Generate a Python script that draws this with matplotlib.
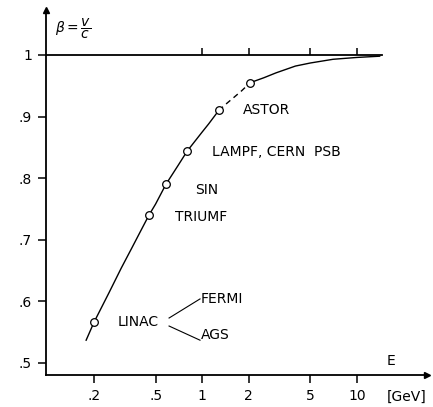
import numpy as np
import matplotlib
matplotlib.use("Agg")
import matplotlib.pyplot as plt

# beta = v/c against kinetic energy
e_solid1 = [0.178, 0.2, 0.25, 0.3, 0.35, 0.4, 0.453, 0.5, 0.583, 0.7, 0.8, 1.0, 1.1, 1.28]
b_solid1 = [0.537, 0.566, 0.614, 0.654, 0.686, 0.714, 0.740, 0.758, 0.790, 0.821, 0.844, 0.875, 0.888, 0.910]
e_dash = [1.28, 1.45, 1.6, 1.8, 2.04]
b_dash = [0.910, 0.922, 0.931, 0.942, 0.955]
e_solid2 = [2.04, 2.5, 3.0, 4.0, 5.0, 7.0, 10.0, 14.0]
b_solid2 = [0.955, 0.963, 0.971, 0.982, 0.987, 0.993, 0.996, 0.998]

# machines marked on the curve
e_mach = [0.2, 0.453, 0.583, 0.8, 1.28, 2.04]
b_mach = [0.566, 0.740, 0.790, 0.844, 0.910, 0.955]

xticks = [0.2, 0.5, 1, 2, 5, 10]
xlabels = ['.2', '.5', '1', '2', '5', '10']
yticks = [0.5, 0.6, 0.7, 0.8, 0.9, 1.0]
ylabels = ['.5', '.6', '.7', '.8', '.9', '1']

plt.rcParams['mathtext.fontset'] = 'dejavusans'
fs = 10
fig = plt.figure(figsize=(4.33, 4.07), dpi=100)
ax = fig.add_axes([46/433, 32/407, 381/433, 365/407])
ax.set_xscale('log')
ax.set_xlim(0.098, 28.3)
ax.set_ylim(0.4805, 1.073)

ax.spines['top'].set_visible(False)
ax.spines['right'].set_visible(False)
for s in ['left', 'bottom']:
    ax.spines[s].set_linewidth(1.3)
# arrow heads
ax.plot([0], [1], marker='^', ms=5, color='k', transform=ax.transAxes, clip_on=False)
ax.plot([1], [0], marker='>', ms=5, color='k', transform=ax.transAxes, clip_on=False)

ax.set_xticks(xticks)
ax.set_xticklabels(xlabels)
ax.set_yticks(yticks)
ax.set_yticklabels(ylabels)
ax.minorticks_off()
ax.tick_params(axis='both', length=6, width=1.1, labelsize=fs, pad=4)

# beta = 1 line with upward ticks
ax.plot([0.098, 14.5], [1, 1], color='k', lw=1.3)
ax.vlines(xticks[2:], 1.0, 1.011, color='k', lw=1.1)

ax.plot(e_solid1, b_solid1, color='k', lw=1)
ax.plot(e_dash, b_dash, color='k', lw=1, dashes=(4, 3))
ax.plot(e_solid2, b_solid2, color='k', lw=1)
ax.plot(e_mach, b_mach, 'o', mfc='white', mec='k', ms=5.5, mew=0.9)

ax.text(1.84, 0.911, 'ASTOR', fontsize=fs, va='center')
ax.text(1.157, 0.8425, 'LAMPF, CERN  PSB', fontsize=fs, va='center')
ax.text(0.90, 0.781, 'SIN', fontsize=fs, va='center')
ax.text(0.667, 0.737, 'TRIUMF', fontsize=fs, va='center')
ax.text(0.286, 0.567, 'LINAC', fontsize=fs, va='center')
ax.plot([0.611, 0.968], [0.573, 0.604], color='k', lw=0.8)
ax.plot([0.611, 0.968], [0.560, 0.537], color='k', lw=0.8)
ax.text(0.98, 0.604, 'FERMI', fontsize=fs, va='center')
ax.text(0.98, 0.546, 'AGS', fontsize=fs, va='center')

ax.text(15.6, 0.503, 'E', fontsize=fs, va='center', ha='left')
ax.text(21, 0.445, '[GeV]', fontsize=fs, va='center', ha='center', clip_on=False)
ax.text(0.112, 1.042, r'$\beta = \dfrac{v}{c}$', fontsize=fs, va='center', ha='left')

fig.savefig('out.png', dpi=100)
